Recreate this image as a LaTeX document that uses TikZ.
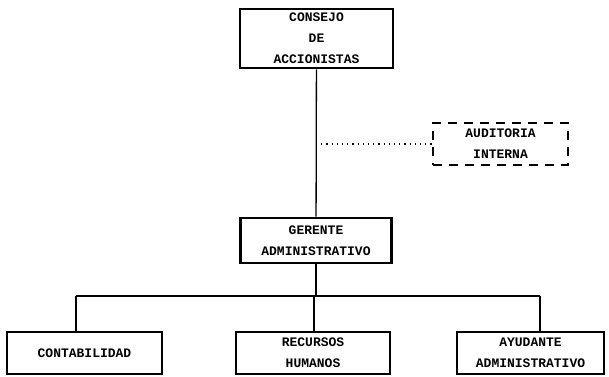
\documentclass[tikz,border=0pt]{standalone}
\usepackage{fontspec}
\setmonofont{Liberation Mono}
\usepackage{tikz}
\usetikzlibrary{arrows}

\begin{document}
\begin{tikzpicture}[x=1pt,y=-1pt]
\tikzset{box/.style = {draw,line width=2.6pt,align=center,inner sep=0pt,
  font=\ttfamily\bfseries\fontsize{13}{21}\selectfont}}
\tikzset{dashbox/.style = {box,dash pattern=on 9pt off 7pt,line width=2.4pt}}
\tikzset{link/.style = {-,line width=1.3pt}}
\tikzset{dotlink/.style = {-,line width=1.2pt,dash pattern=on 1.2pt off 4pt}}
\useasboundingbox (0,0) rectangle (609,376);
\node[box,minimum width=153pt,minimum height=59pt] (consejo) at (316.5,38.5) {CONSEJO\\DE\\ACCIONISTAS};
\node[dashbox,minimum width=135pt,minimum height=42pt] (auditoria) at (500.5,144) {AUDITORIA\\INTERNA};
\node[box,minimum width=151pt,minimum height=45pt] (gerente) at (316,240.5) {GERENTE\\ADMINISTRATIVO};
\node[box,minimum width=155pt,minimum height=42pt] (contab) at (84.5,353) {CONTABILIDAD};
\node[box,minimum width=154pt,minimum height=42pt] (recursos) at (313,353) {RECURSOS\\HUMANOS};
\node[box,minimum width=147pt,minimum height=42pt] (ayudante) at (530.5,353) {AYUDANTE\\ADMINISTRATIVO};
\coordinate (tap) at (316,144);
\coordinate (bus) at (316,296);
\coordinate (b1) at (76,296);
\coordinate (b2) at (314,296);
\coordinate (b3) at (540,296);
\draw[link] (consejo) to   (gerente);
\draw[dotlink] (tap) to   (auditoria);
\draw[link] (gerente) to   (bus);
\draw[link] (b1) to   (b3);
\draw[link] (b1) to   (b1 |- contab.north);
\draw[link] (b2) to   (b2 |- recursos.north);
\draw[link] (b3) to   (b3 |- ayudante.north);
\end{tikzpicture}
\end{document}
